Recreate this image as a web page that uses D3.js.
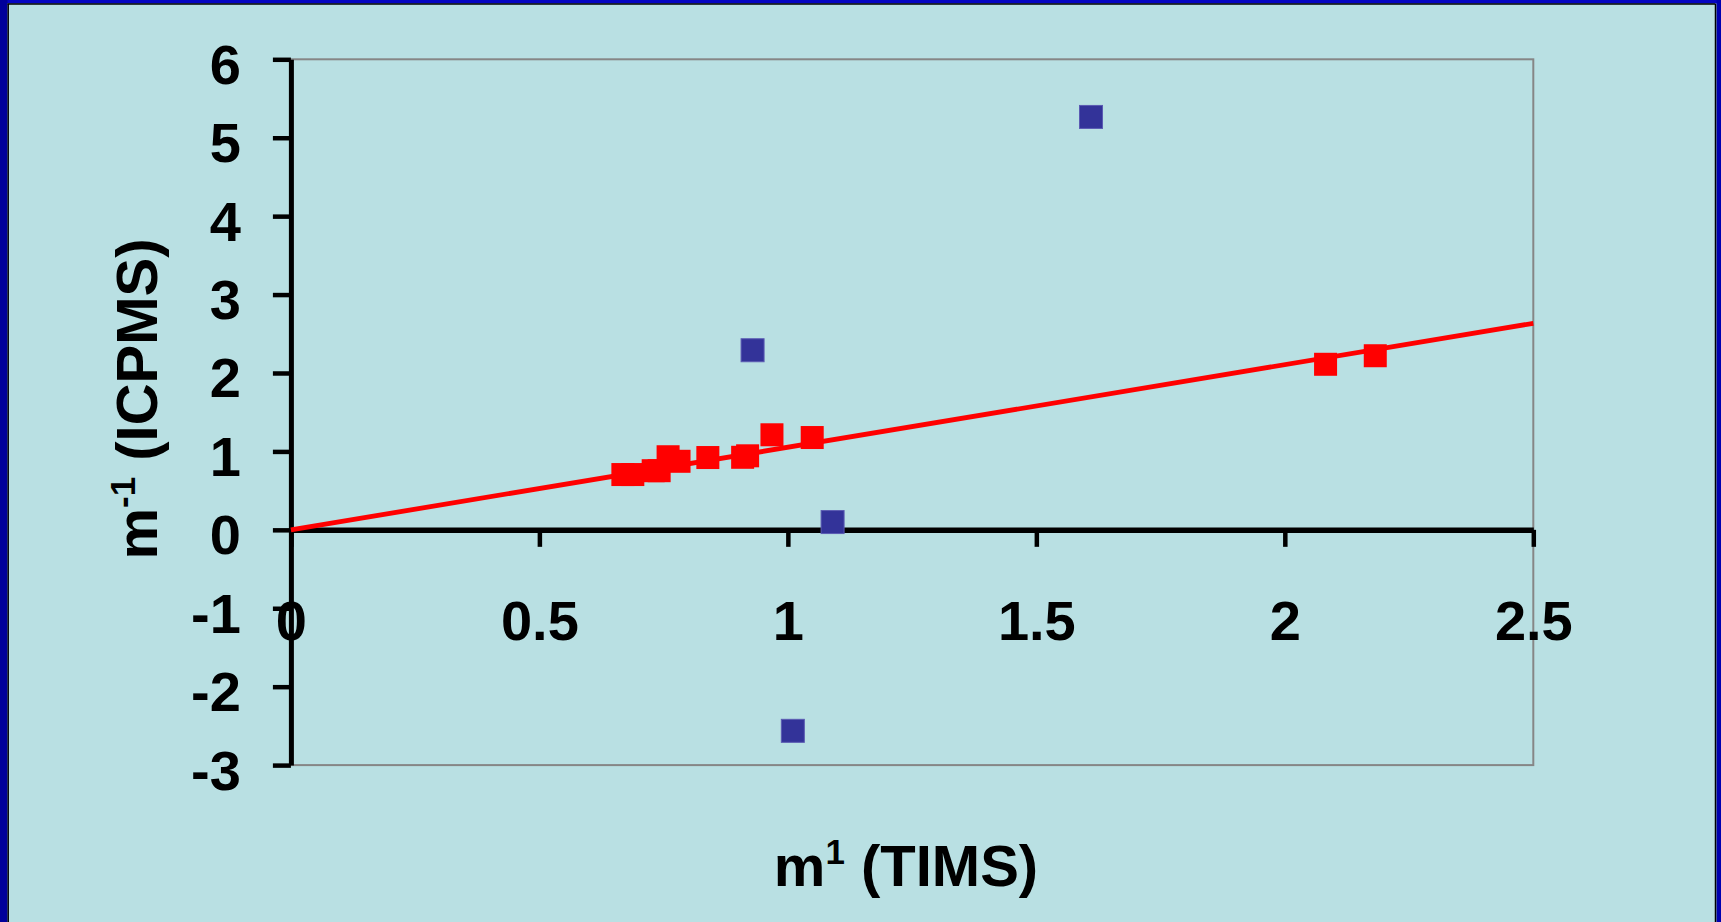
<!DOCTYPE html>
<html>
<head>
<meta charset="utf-8">
<script src="https://cdn.jsdelivr.net/npm/d3@7"></script>
<style>
  html, body { margin: 0; padding: 0; background: #b9e0e3; overflow: hidden; }
  svg { display: block; }
  text { font-family: "Liberation Sans", Arial, Helvetica, sans-serif; font-weight: bold; fill: #000; }
</style>
</head>
<body>
<svg id="chart" width="1721" height="922"></svg>
<script>
// TIMS vs ICPMS values
const fittedX = [0.668, 0.688, 0.729, 0.741, 0.759, 0.781, 0.839, 0.909, 0.919, 0.968, 1.049, 2.082, 2.182];
const fittedY = [0.705, 0.705, 0.754, 0.754, 0.932, 0.874, 0.922, 0.925, 0.944, 1.212, 1.177, 2.111, 2.220];
const outlierX = [0.929, 1.090, 1.610, 1.010];
const outlierY = [2.290, 0.099, 5.265, -2.563];

const xTicks = [0, 0.5, 1, 1.5, 2, 2.5];
const yTicks = [-3, -2, -1, 0, 1, 2, 3, 4, 5, 6];

const W = 1721, H = 922;
const svg = d3.select("#chart");

// page background and frame
svg.append("rect").attr("width", W).attr("height", H).attr("fill", "#b9e0e3");
svg.append("rect").attr("x", 0).attr("y", 0).attr("width", W).attr("height", 3.5).attr("fill", "#0606c2");
svg.append("rect").attr("x", 0).attr("y", 0).attr("width", 7.5).attr("height", H).attr("fill", "#00009a");
svg.append("rect").attr("x", 1716.5).attr("y", 0).attr("width", 4.5).attr("height", H).attr("fill", "#0000b0");
svg.append("line").attr("x1", 7.5).attr("x2", 1715.5).attr("y1", 4).attr("y2", 4).attr("stroke", "#000").attr("stroke-width", 1.5);
svg.append("line").attr("x1", 8.2).attr("x2", 8.2).attr("y1", 4).attr("y2", H).attr("stroke", "#000").attr("stroke-width", 1.5);
svg.append("line").attr("x1", 1715.5).attr("x2", 1715.5).attr("y1", 4).attr("y2", H).attr("stroke", "#000").attr("stroke-width", 1.5);

const x = d3.scaleLinear().domain([0, 2.5]).range([290.9, 1533.3]);
const y = d3.scaleLinear().domain([-3, 6]).range([765.1, 59.3]);

// plot area outline
svg.append("rect")
  .attr("x", x(0)).attr("y", y(6))
  .attr("width", x(2.5) - x(0)).attr("height", y(-3) - y(6))
  .attr("fill", "none").attr("stroke", "#868686").attr("stroke-width", 2);

// x axis along y = 0
const xAxis = svg.append("g")
  .attr("transform", `translate(0,${y(0)})`)
  .call(d3.axisBottom(x).tickValues(xTicks).tickSize(17).tickSizeOuter(0).tickFormat(d3.format("")));
xAxis.select(".domain").attr("stroke", "#000").attr("stroke-width", 5.5);
xAxis.selectAll(".tick line").attr("stroke", "#000").attr("stroke-width", 4.5);
xAxis.selectAll(".tick text")
  .attr("y", 110).attr("dy", 0)
  .style("font-size", "56px").style("font-weight", "bold")
  .attr("fill", "#000");

// y axis along x = 0
const yAxis = svg.append("g")
  .attr("transform", `translate(${x(0)},0)`)
  .call(d3.axisLeft(y).tickValues(yTicks).tickSize(18).tickSizeOuter(0).tickFormat(d3.format("")));
yAxis.select(".domain").attr("stroke", "#000").attr("stroke-width", 5);
yAxis.selectAll(".tick line").attr("stroke", "#000").attr("stroke-width", 4.5);
yAxis.selectAll(".tick text")
  .attr("x", -50).attr("y", 24).attr("dy", 0)
  .style("font-size", "56px").style("font-weight", "bold")
  .attr("fill", "#000")
  .text(d => d < 0 ? "-" + Math.abs(d) : d);

// trend line through the origin, least squares fit of the fitted series
const sxy = d3.sum(fittedX, (v, i) => v * fittedY[i]);
const sxx = d3.sum(fittedX, v => v * v);
const slope = sxy / sxx;
svg.append("line")
  .attr("x1", x(0)).attr("y1", y(0))
  .attr("x2", x(2.5)).attr("y2", y(slope * 2.5))
  .attr("stroke", "#ff0000").attr("stroke-width", 4.8);

// fitted points
const red = fittedX.map((v, i) => ({ x: v, y: fittedY[i] }));
const rs = 23;
svg.append("g").selectAll("rect").data(red).join("rect")
  .attr("x", d => x(d.x) - rs / 2).attr("y", d => y(d.y) - rs / 2)
  .attr("width", rs).attr("height", rs)
  .attr("fill", "#ff0000");

// excluded points
const blue = outlierX.map((v, i) => ({ x: v, y: outlierY[i] }));
const bs = 23;
svg.append("g").selectAll("rect").data(blue).join("rect")
  .attr("x", d => x(d.x) - bs / 2).attr("y", d => y(d.y) - bs / 2)
  .attr("width", bs).attr("height", bs)
  .attr("fill", "#333399").attr("stroke", "#5b5bb3").attr("stroke-width", 1);

// axis titles
const xt = svg.append("text")
  .attr("x", 906).attr("y", 886)
  .attr("text-anchor", "middle")
  .style("font-size", "58px");
xt.append("tspan").text("m");
xt.append("tspan").attr("dy", -22).style("font-size", "35px").text("1");
xt.append("tspan").attr("dy", 22).text(" (TIMS)");

const yt = svg.append("text")
  .attr("transform", "translate(157,399) rotate(-90)")
  .attr("text-anchor", "middle")
  .style("font-size", "58px");
yt.append("tspan").text("m");
yt.append("tspan").attr("dy", -22).style("font-size", "35px").text("-1");
yt.append("tspan").attr("dy", 22).text(" (ICPMS)");
</script>
</body>
</html>
